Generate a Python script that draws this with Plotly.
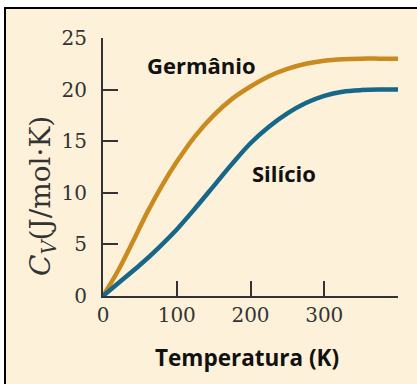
import plotly.graph_objects as go

# Data
temp_ge = [0, 20, 40, 60, 80, 100, 125, 150, 175, 200, 225, 250, 275, 300, 325, 350, 375, 400]
cv_ge = [0, 2.4, 5.2, 8.1, 10.7, 13.0, 15.5, 17.5, 19.1, 20.3, 21.3, 22.0, 22.5, 22.8, 22.95, 23.0, 23.0, 23.0]

temp_si = [0, 25, 50, 75, 100, 125, 150, 175, 200, 225, 250, 275, 300, 325, 350, 375, 400]
cv_si = [0, 1.5, 3.0, 4.65, 6.45, 8.5, 10.65, 12.8, 14.8, 16.4, 17.7, 18.7, 19.4, 19.8, 19.95, 20.0, 20.0]

x_tickvals = [0, 100, 200, 300, 400]
x_ticktext = ["0", "100", "200", "300", ""]
y_tickvals = [0, 5, 10, 15, 20, 25]

W, H = 417, 384
L, R, T, B = 103, 19, 38, 88
pw, ph = W - L - R, H - T - B

def px2paper_x(px):
    return (px - L) / pw

def px2paper_y(py):
    return (H - B - py) / ph

fig = go.Figure()
fig.add_trace(go.Scatter(x=temp_ge, y=cv_ge, mode="lines",
                         line=dict(color="#C98A1F", width=4.5, shape="spline", smoothing=0.9),
                         showlegend=False))
fig.add_trace(go.Scatter(x=temp_si, y=cv_si, mode="lines",
                         line=dict(color="#17678A", width=4.5, shape="spline", smoothing=0.9),
                         showlegend=False))

fig.add_shape(type="rect", xref="paper", yref="paper",
              x0=px2paper_x(5), x1=px2paper_x(430),
              y0=px2paper_y(400), y1=px2paper_y(8),
              line=dict(color="black", width=2), fillcolor="#FDF1D9", layer="below")

label_font = dict(family="Open Sans", size=22, color="#111111")
fig.add_annotation(x=px2paper_x(201), y=px2paper_y(65), xref="paper", yref="paper",
                   xanchor="center", yanchor="middle",
                   text="<b>Germânio</b>", showarrow=False, font=label_font)
fig.add_annotation(x=px2paper_x(284), y=px2paper_y(173), xref="paper", yref="paper",
                   xanchor="center", yanchor="middle",
                   text="<b>Silício</b>", showarrow=False, font=label_font)
fig.add_annotation(x=px2paper_x(247), y=px2paper_y(357), xref="paper", yref="paper",
                   xanchor="center", yanchor="middle",
                   text="<b>Temperatura (K)</b>", showarrow=False,
                   font=dict(family="Open Sans", size=22.5, color="#111111"))
fig.add_annotation(x=px2paper_x(42), y=px2paper_y(196), xref="paper", yref="paper",
                   xanchor="center", yanchor="middle",
                   text="<i>C</i><sub><i>V</i></sub>(J/mol·K)", showarrow=False, textangle=-90,
                   font=dict(family="DejaVu Serif", size=28, color="#333333"))

axis_common = dict(showline=True, linecolor="#333333", linewidth=2, ticks="inside",
                   ticklen=15, tickwidth=2, tickcolor="#333333", showgrid=False,
                   zeroline=False, tickfont=dict(family="DejaVu Serif", size=20, color="#333333"))

fig.update_xaxes(range=[0, 400], tickvals=x_tickvals, ticktext=x_ticktext,
                 ticklabelstandoff=0, **axis_common)
fig.update_yaxes(range=[0, 25], tickvals=y_tickvals, ticklabelstandoff=10, **axis_common)

fig.update_layout(width=W, height=H, margin=dict(l=L, r=R, t=T, b=B),
                  paper_bgcolor="white", plot_bgcolor="rgba(0,0,0,0)")

fig.write_html("out.html", config={"displayModeBar": False},
               post_script="document.body.style.margin='0';")
